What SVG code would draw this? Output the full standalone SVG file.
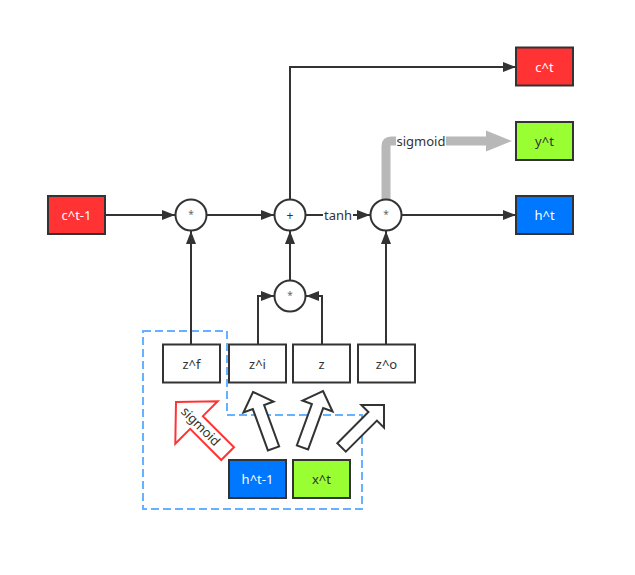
<svg xmlns="http://www.w3.org/2000/svg" width="635" height="575" viewBox="0 0 635 575">
<defs>
<style>
.box{stroke:#333;stroke-width:2}
.lbl{font-family:"Noto Sans","Open Sans",sans-serif;font-size:13px;text-anchor:middle;dominant-baseline:central;fill:#333}
.w{fill:#fff}
.op{fill:#fff;stroke:#333;stroke-width:2}
.ln{fill:none;stroke:#333;stroke-width:2}
.blk{fill:#fff;stroke:#333;stroke-width:2;stroke-linejoin:miter}
</style>
<marker id="ah" markerUnits="userSpaceOnUse" markerWidth="14" markerHeight="12" refX="13" refY="5" orient="auto">
<path d="M0,0 L13,5 L0,10 Z" fill="#333"/>
</marker>
</defs>
<rect width="635" height="575" fill="#fff"/>

<g id="group-box">
<path d="M143,331 H227 V415 H362 V509 H143 Z" fill="none" stroke="#66b2ff" stroke-width="2" stroke-dasharray="8 4"/>
</g>

<g id="connectors">
<line class="ln" x1="105" y1="215" x2="175" y2="215" marker-end="url(#ah)"/>
<line class="ln" x1="207" y1="215" x2="274" y2="215" marker-end="url(#ah)"/>
<line class="ln" x1="306" y1="215" x2="370" y2="215" marker-end="url(#ah)"/>
<rect x="323" y="207" width="30" height="16" fill="#fff"/>
<text class="lbl" x="338" y="215">tanh</text>
<line class="ln" x1="402" y1="215" x2="516" y2="215" marker-end="url(#ah)"/>
<path class="ln" d="M290,199 V67 H516" marker-end="url(#ah)"/>
<path d="M386,199 V146 Q386,141 391,141 H490" fill="none" stroke="#b8b8b8" stroke-width="9"/>
<path d="M486,130.5 L512,141 L486,151.5 Z" fill="#b8b8b8"/>
<rect x="396" y="133" width="50" height="16" fill="#fff"/>
<text class="lbl" x="421" y="141">sigmoid</text>
<line class="ln" x1="191" y1="344" x2="191" y2="231" marker-end="url(#ah)"/>
<line class="ln" x1="386" y1="344" x2="386" y2="231" marker-end="url(#ah)"/>
<line class="ln" x1="290" y1="280" x2="290" y2="231" marker-end="url(#ah)"/>
<path class="ln" d="M258,344 V296 H274" marker-end="url(#ah)"/>
<path class="ln" d="M322,344 V296 H306" marker-end="url(#ah)"/>
</g>

<g id="op-mul1"><circle class="op" cx="191" cy="215" r="15.5"/><text class="lbl" x="191" y="214" style="font-size:10px;fill:#666">*</text></g>
<g id="op-add"><circle class="op" cx="290" cy="215" r="15.5"/><text class="lbl" x="290" y="215" style="font-size:12px">+</text></g>
<g id="op-mul2"><circle class="op" cx="386" cy="215" r="15.5"/><text class="lbl" x="386" y="214" style="font-size:10px;fill:#666">*</text></g>
<g id="op-mul3"><circle class="op" cx="290" cy="296" r="15.5"/><text class="lbl" x="290" y="295" style="font-size:10px;fill:#666">*</text></g>

<g id="c-prev"><rect class="box" x="48" y="196" width="57" height="38" fill="#ff3333"/><text class="lbl w" x="76.5" y="215">c^t-1</text></g>
<g id="c-t"><rect class="box" x="516" y="47.5" width="57" height="38" fill="#ff3333"/><text class="lbl w" x="544.5" y="66.5">c^t</text></g>
<g id="y-t"><rect class="box" x="516" y="122" width="57" height="38" fill="#99ff33"/><text class="lbl" x="544.5" y="141">y^t</text></g>
<g id="h-t"><rect class="box" x="516" y="196" width="57" height="38" fill="#0077ff"/><text class="lbl w" x="544.5" y="215">h^t</text></g>

<g id="z-f"><rect class="box" x="163" y="344.5" width="57" height="38" fill="#fff"/><text class="lbl" x="191.5" y="363.5">z^f</text></g>
<g id="z-i"><rect class="box" x="229" y="344.5" width="57" height="38" fill="#fff"/><text class="lbl" x="257.5" y="363.5">z^i</text></g>
<g id="z"><rect class="box" x="293" y="344.5" width="57" height="38" fill="#fff"/><text class="lbl" x="321.5" y="363.5">z</text></g>
<g id="z-o"><rect class="box" x="358" y="344.5" width="57" height="38" fill="#fff"/><text class="lbl" x="386.5" y="363.5">z^o</text></g>

<g id="h-prev"><rect class="box" x="229" y="460" width="57" height="38" fill="#0077ff"/><text class="lbl w" x="257.5" y="479">h^t-1</text></g>
<g id="x-t"><rect class="box" x="293" y="460" width="57" height="38" fill="#99ff33"/><text class="lbl" x="321.5" y="479">x^t</text></g>

<g id="arrow-sigmoid">
<path transform="translate(176,402) rotate(-45)" d="M0,0 L30,29 L9,29 L9,73 L-9,73 L-9,29 L-30,29 Z" fill="#fff" stroke="#ff3333" stroke-width="2"/>
<text class="lbl" transform="translate(201,426) rotate(45)" x="0" y="0">sigmoid</text>
</g>
<g id="arrow-i"><path class="blk" transform="translate(253,392) rotate(-20)" d="M0,0 L16,16 L6,16 L6,60 L-6,60 L-6,16 L-16,16 Z"/></g>
<g id="arrow-z"><path class="blk" transform="translate(323,391) rotate(20)" d="M0,0 L16,16 L6,16 L6,60 L-6,60 L-6,16 L-16,16 Z"/></g>
<g id="arrow-o"><path class="blk" transform="translate(384,405) rotate(45)" d="M0,0 L16,16 L6,16 L6,60 L-6,60 L-6,16 L-16,16 Z"/></g>
</svg>
